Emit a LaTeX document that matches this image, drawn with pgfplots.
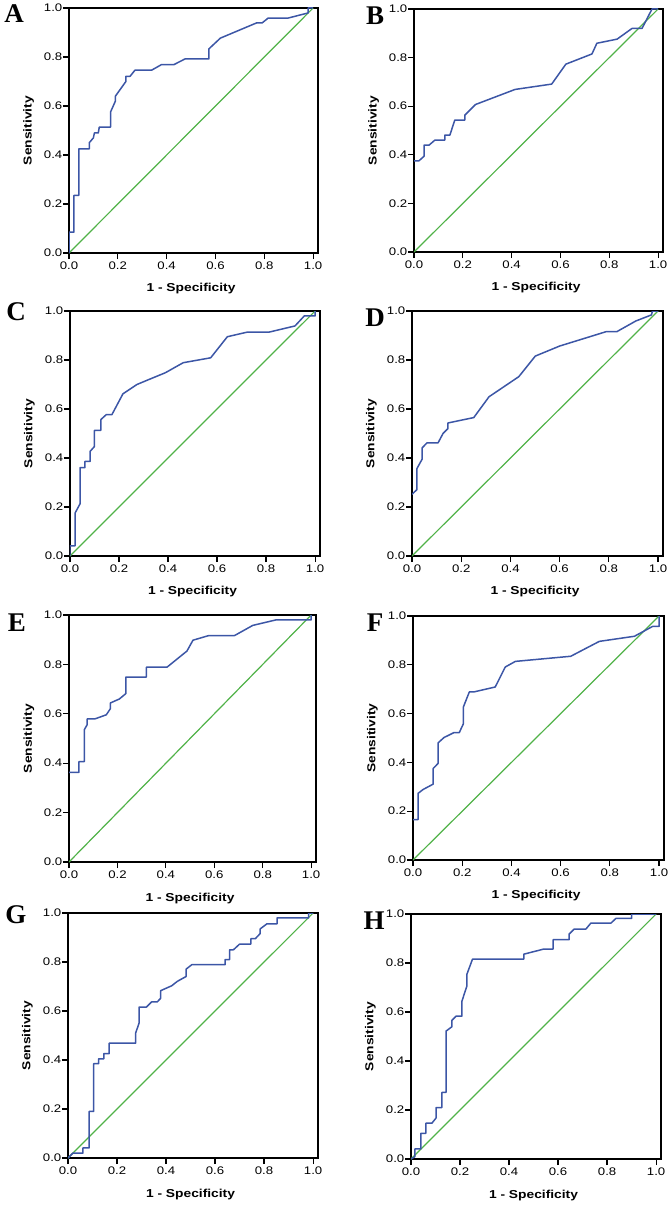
\documentclass[border=0pt]{standalone}
\usepackage{fontspec}
\setmainfont[FakeStretch=1.2]{Liberation Sans}
\newfontfamily\letterfont{Liberation Serif}
\usepackage{pgfplots}
\pgfplotsset{compat=1.18}
\definecolor{rocblue}{RGB}{60,86,166}
\definecolor{rocgreen}{RGB}{80,178,72}
\pgfplotsset{rocax/.style={
  scale only axis, anchor=south west,
  xmin=0, xmax=1.02, ymin=0, ymax=1,
  xtick={0,0.2,0.4,0.6,0.8,1.0}, ytick={0,0.2,0.4,0.6,0.8,1.0},
  xtick pos=bottom, ytick pos=left, tick align=outside,
  major tick length=6pt,
  axis line style={line width=1.7pt},
  tick style={black, line width=1.2pt},
  tick label style={font=\fontsize{11}{13}\selectfont},
  yticklabel style={inner xsep=0.5pt},
  xticklabel style={inner ysep=2.5pt},
  /pgf/number format/assume math mode=true,
  /pgf/number format/fixed, /pgf/number format/fixed zerofill, /pgf/number format/precision=1,
  xlabel={1 - Specificity}, ylabel={Sensitivity},
  xlabel style={at={(axis description cs:0.49,-0.147)}, anchor=center, font=\fontsize{11.5}{13}\selectfont\bfseries},
  ylabel style={at={(axis description cs:-0.162,0.5)}, anchor=center, font=\fontsize{11.5}{13}\selectfont\bfseries},
}}
\pgfplotsset{roc/.style={rocblue, line width=1.5pt, line join=round}, diag/.style={rocgreen, line width=1.2pt}}
\begin{document}
\begin{tikzpicture}
\useasboundingbox (0,0) rectangle (670pt,-1206pt);
% A
\begin{axis}[rocax, at={(69pt,-253pt)}, width=249pt, height=245pt]
\addplot[diag] coordinates {(0,0) (1,1)};
\addplot[roc] coordinates {(0,0) (0,0.085) (0.02,0.085) (0.02,0.235) (0.04,0.235) (0.04,0.425) (0.083,0.425) (0.083,0.45) (0.1,0.47) (0.104,0.49) (0.12,0.49) (0.124,0.514) (0.17,0.514) (0.17,0.575) (0.19,0.62) (0.19,0.64) (0.233,0.70) (0.233,0.721) (0.25,0.721) (0.27,0.746) (0.338,0.746) (0.379,0.769) (0.43,0.769) (0.475,0.792) (0.573,0.792) (0.573,0.833) (0.62,0.877) (0.768,0.939) (0.791,0.939) (0.816,0.959) (0.898,0.959) (0.98,0.98) (0.98,1) (1,1)};
\end{axis}
% B
\begin{axis}[rocax, at={(414pt,-252pt)}, width=249pt, height=243pt]
\addplot[diag] coordinates {(0,0) (1,1)};
\addplot[roc] coordinates {(0,0.375) (0.02,0.375) (0.041,0.394) (0.041,0.44) (0.062,0.44) (0.085,0.46) (0.126,0.46) (0.126,0.481) (0.147,0.481) (0.167,0.543) (0.208,0.543) (0.208,0.563) (0.252,0.607) (0.414,0.669) (0.564,0.691) (0.622,0.773) (0.729,0.815) (0.749,0.859) (0.832,0.876) (0.893,0.92) (0.934,0.92) (0.975,1) (1,1)};
\end{axis}
% C
\begin{axis}[rocax, at={(70pt,-556pt)}, width=250pt, height=245pt]
\addplot[diag] coordinates {(0,0) (1,1)};
\addplot[roc] coordinates {(0,0) (0,0.041) (0.0205,0.041) (0.0205,0.175) (0.041,0.213) (0.041,0.361) (0.061,0.361) (0.061,0.386) (0.082,0.386) (0.082,0.427) (0.0997,0.447) (0.0997,0.513) (0.126,0.513) (0.126,0.557) (0.148,0.577) (0.171,0.577) (0.216,0.662) (0.273,0.70) (0.321,0.72) (0.389,0.748) (0.462,0.789) (0.574,0.809) (0.642,0.895) (0.724,0.914) (0.813,0.914) (0.918,0.939) (0.956,0.98) (1,0.98) (1,1)};
\end{axis}
% D
\begin{axis}[rocax, at={(412pt,-556pt)}, width=251pt, height=245pt]
\addplot[diag] coordinates {(0,0) (1,1)};
\addplot[roc] coordinates {(0,0.252) (0.02,0.271) (0.02,0.357) (0.041,0.395) (0.041,0.441) (0.061,0.462) (0.106,0.462) (0.126,0.5) (0.146,0.52) (0.146,0.543) (0.251,0.565) (0.313,0.65) (0.434,0.732) (0.501,0.816) (0.6,0.857) (0.79,0.916) (0.833,0.916) (0.909,0.959) (0.973,0.984) (0.977,1) (1,1)};
\end{axis}
% E
\begin{axis}[rocax, at={(69pt,-862pt)}, width=247pt, height=247pt]
\addplot[diag] coordinates {(0,0) (1,1)};
\addplot[roc] coordinates {(0,0.363) (0.041,0.363) (0.041,0.406) (0.063,0.406) (0.063,0.535) (0.075,0.556) (0.075,0.579) (0.106,0.579) (0.154,0.596) (0.171,0.621) (0.171,0.644) (0.208,0.66) (0.235,0.682) (0.235,0.749) (0.32,0.749) (0.32,0.789) (0.405,0.789) (0.487,0.854) (0.512,0.898) (0.578,0.917) (0.684,0.917) (0.759,0.958) (0.854,0.98) (1,0.98) (1,1)};
\end{axis}
% F
\begin{axis}[rocax, at={(413pt,-860pt)}, width=251pt, height=244pt]
\addplot[diag] coordinates {(0,0) (1,1)};
\addplot[roc] coordinates {(0,0.166) (0.0205,0.166) (0.0205,0.273) (0.041,0.289) (0.082,0.311) (0.082,0.375) (0.102,0.396) (0.102,0.48) (0.126,0.502) (0.166,0.522) (0.188,0.522) (0.205,0.559) (0.205,0.628) (0.229,0.689) (0.248,0.689) (0.334,0.709) (0.375,0.791) (0.416,0.814) (0.641,0.835) (0.757,0.896) (0.9,0.917) (0.973,0.957) (1,0.957) (1,1)};
\end{axis}
% G
\begin{axis}[rocax, at={(68pt,-1158pt)}, width=250pt, height=245pt]
\addplot[diag] coordinates {(0,0) (1,1)};
\addplot[roc] coordinates {(0,0) (0.02,0.02) (0.061,0.02) (0.061,0.041) (0.086,0.041) (0.086,0.19) (0.105,0.19) (0.105,0.385) (0.125,0.385) (0.125,0.405) (0.146,0.405) (0.146,0.426) (0.168,0.426) (0.168,0.469) (0.276,0.469) (0.276,0.51) (0.29,0.551) (0.29,0.616) (0.32,0.616) (0.341,0.637) (0.364,0.637) (0.378,0.652) (0.378,0.683) (0.423,0.703) (0.446,0.721) (0.482,0.741) (0.482,0.771) (0.505,0.789) (0.641,0.789) (0.641,0.81) (0.659,0.81) (0.659,0.85) (0.675,0.85) (0.7,0.873) (0.746,0.873) (0.746,0.895) (0.764,0.895) (0.784,0.916) (0.784,0.935) (0.812,0.956) (0.853,0.956) (0.853,0.98) (0.982,0.98) (0.982,1) (1,1)};
\end{axis}
% H
\begin{axis}[rocax, at={(411pt,-1159pt)}, width=250pt, height=245pt]
\addplot[diag] coordinates {(0,0) (1,1)};
\addplot[roc] coordinates {(0,0) (0.016,0.0096) (0.016,0.041) (0.04,0.041) (0.04,0.105) (0.061,0.105) (0.061,0.146) (0.085,0.146) (0.102,0.167) (0.102,0.21) (0.126,0.21) (0.126,0.272) (0.143,0.272) (0.143,0.522) (0.167,0.54) (0.167,0.566) (0.184,0.583) (0.208,0.583) (0.208,0.645) (0.228,0.706) (0.228,0.754) (0.251,0.816) (0.46,0.816) (0.46,0.836) (0.542,0.857) (0.58,0.857) (0.58,0.895) (0.645,0.895) (0.645,0.918) (0.665,0.938) (0.713,0.938) (0.734,0.963) (0.816,0.963) (0.836,0.982) (0.9,0.982) (0.9,1) (1,1)};
\end{axis}
% panel letters
\begin{scope}[every node/.style={inner sep=0pt, anchor=center, font=\letterfont\fontsize{27}{30}\selectfont\bfseries}]
\node at (14pt,-14pt) {A};
\node at (375pt,-16pt) {B};
\node at (16pt,-312pt) {C};
\node at (375pt,-318pt) {D};
\node at (17pt,-623pt) {E};
\node at (375pt,-623pt) {F};
\node at (16pt,-915pt) {G};
\node at (374pt,-921pt) {H};
\end{scope}
\end{tikzpicture}
\end{document}
